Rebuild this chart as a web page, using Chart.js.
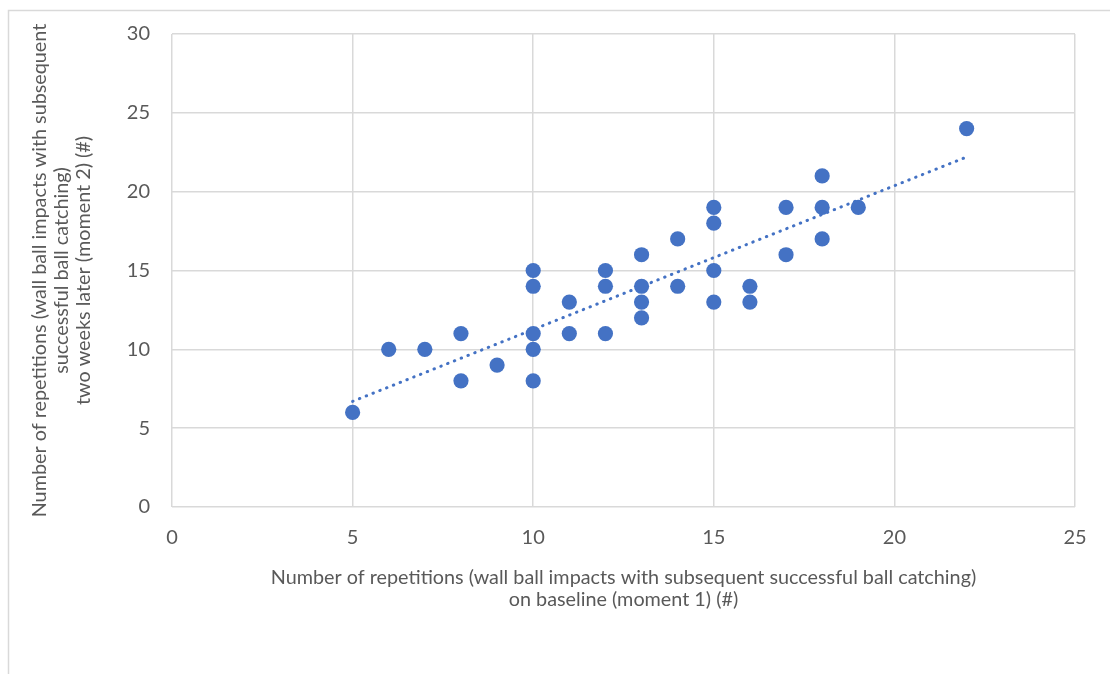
<!DOCTYPE html>
<html>
<head>
<meta charset="utf-8">
<script src="https://cdn.jsdelivr.net/npm/chart.js@4"></script>
<style>
  html, body { margin: 0; padding: 0; background: #fff; }
  #wrap { width: 1110px; height: 674px; position: relative; }
</style>
</head>
<body>
<div id="wrap"><canvas id="scatterChart"></canvas></div>
<script>
// moment 1 (baseline) vs moment 2 (two weeks later)
const baselineReps = [5, 6, 7, 8, 8, 9, 10, 10, 10, 10, 10, 11, 11, 12, 12, 12, 13, 13, 13, 13,
  14, 14, 15, 15, 15, 15, 16, 16, 17, 17, 18, 18, 18, 19, 22];
const laterReps = [6, 10, 10, 11, 8, 9, 15, 14, 11, 10, 8, 13, 11, 15, 14, 11, 16, 14, 13, 12,
  17, 14, 19, 18, 15, 13, 14, 13, 19, 16, 21, 19, 17, 19, 24];

// dotted linear trendline, end points
const trendX = [5, 22];
const trendY = [6.7, 22.2];

const xTitle = [
  "Number of repetitions (wall ball impacts with subsequent successful ball catching)",
  "on baseline (moment 1) (#)",
];
const yTitle = [
  "Number of repetitions (wall ball impacts with subsequent",
  "successful ball catching)",
  "two weeks later (moment 2) (#)",
];

const blue = "#4472C4";
const gridColor = "#d9d9d9";
const textColor = "#595959";
const fontFamily = "Lato, 'Open Sans', sans-serif";

const outerBorder = {
  id: "outerBorder",
  beforeDraw(chart) {
    const ctx = chart.ctx;
    ctx.save();
    ctx.strokeStyle = gridColor;
    ctx.lineWidth = 1.5;
    ctx.beginPath();
    ctx.moveTo(1115, 10.5);
    ctx.lineTo(8.5, 10.5);
    ctx.lineTo(8.5, 680);
    ctx.stroke();
    ctx.restore();
  },
};

const points = baselineReps.map((x, i) => ({ x: x, y: laterReps[i] }));
const trend = trendX.map((x, i) => ({ x: x, y: trendY[i] }));

new Chart(document.getElementById("scatterChart"), {
  type: "scatter",
  data: {
    datasets: [
      {
        label: "Trend",
        type: "line",
        data: trend,
        borderColor: blue,
        borderWidth: 3,
        borderDash: [0.5, 6.8],
        borderCapStyle: "round",
        pointRadius: 0,
        fill: false,
        order: 2,
      },
      {
        label: "Repetitions",
        data: points,
        backgroundColor: blue,
        borderColor: blue,
        borderWidth: 0,
        pointRadius: 7.6,
        pointHoverRadius: 7.6,
        order: 1,
      },
    ],
  },
  plugins: [outerBorder],
  options: {
    responsive: true,
    maintainAspectRatio: false,
    animation: false,
    events: [],
    layout: {
      padding: { left: 0, top: 28, right: 35, bottom: 0 },
    },
    scales: {
      x: {
        type: "linear",
        min: 0,
        max: 25,
        afterFit: (scale) => { scale.height = 167; },
        ticks: {
          stepSize: 5,
          padding: 19,
          color: textColor,
          font: { family: fontFamily, size: 20 },
        },
        grid: {
          color: gridColor,
          lineWidth: 1.5,
          drawTicks: false,
        },
        border: { display: false },
        title: {
          display: true,
          text: xTitle,
          color: textColor,
          padding: { top: 0, bottom: 63 },
          font: { family: fontFamily, size: 19.8, lineHeight: 22 / 19.8 },
        },
      },
      y: {
        type: "linear",
        min: 0,
        max: 30,
        afterFit: (scale) => { scale.width = 172; },
        ticks: {
          stepSize: 5,
          padding: 22,
          color: textColor,
          font: { family: fontFamily, size: 20 },
        },
        grid: {
          color: gridColor,
          lineWidth: 1.5,
          drawTicks: false,
        },
        border: { display: false },
        title: {
          display: true,
          text: yTitle,
          color: textColor,
          padding: { top: 29, bottom: 0 },
          font: { family: fontFamily, size: 19.8, lineHeight: 22 / 19.8 },
        },
      },
    },
    plugins: {
      legend: { display: false },
      tooltip: { enabled: false },
    },
  },
});
</script>
</body>
</html>
